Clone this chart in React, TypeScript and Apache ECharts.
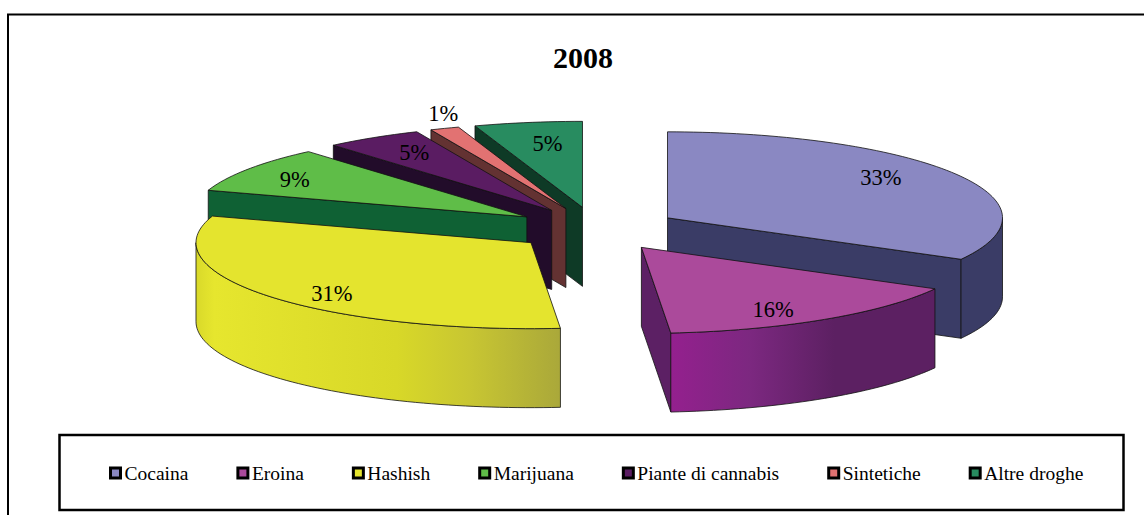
import React, { useEffect, useRef } from "react";
import * as echarts from "echarts";

const chartTitle = "2008";
const categories = ["Cocaina", "Eroina", "Hashish", "Marijuana", "Piante di cannabis", "Sintetiche", "Altre droghe"];
const values = [33, 15.6, 31.4, 8.7, 4.7, 1.4, 5.2];

// Styles and layout, per slice
const topColors = ["#8a88c2", "#ab4a9b", "#e4e42e", "#5fbd48", "#5a1c62", "#e27272", "#288c60"];
const wallColors = ["#3a3c66", "#5c2064", "#8a8a1c", "#0f6134", "#220c2a", "#633232", "#0e3a26"];
const rimStops: Array<Array<[number, string]>> = [
  [[0, "#3a3c66"], [1, "#3a3c66"]],
  [[0, "#94208e"], [0.3, "#7c2880"], [0.62, "#5c2062"], [1, "#5c2062"]],
  [[0, "#d9d92a"], [0.05, "#e6e62e"], [0.55, "#d8d828"], [0.75, "#c8c632"], [1, "#aaa83a"]],
  [[0, "#0f6134"], [1, "#0f6134"]],
  [[0, "#220c2a"], [1, "#220c2a"]],
  [[0, "#633232"], [1, "#633232"]],
  [[0, "#0e3a26"], [1, "#0e3a26"]],
];
const labelReach: Array<[number, number]> = [
  [0.74, 0.91], [0.72, 0.86], [0.76, 0.94], [0.832, 0.79], [0.77, 0.8], [1.01, 1.19], [0.64, 0.75],
];
const paintOrder = [6, 5, 4, 3, 0, 2, 1];

const CX = 596;
const CY = 229;
const RX = 335;
const RY = 86;
const DEPTH = 79;
const EXPLODE_X = 0.248;
const EXPLODE_Y = 0.255;

const total = values.reduce((a, b) => a + b, 0);
const rad = (d: number) => (d * Math.PI) / 180;

function sliceGeometry(i: number) {
  const before = values.slice(0, i).reduce((a, b) => a + b, 0);
  const start = (before / total) * 360;
  const end = ((before + values[i]) / total) * 360;
  const mid = (start + end) / 2;
  const ax = CX + EXPLODE_X * RX * Math.sin(rad(mid));
  const ay = CY - EXPLODE_Y * RY * Math.cos(rad(mid));
  const at = (t: number, down = 0): [number, number] => [
    ax + RX * Math.sin(rad(t)),
    ay - RY * Math.cos(rad(t)) + down,
  ];
  return { start, end, mid, ax, ay, at };
}

function arcAngles(from: number, to: number) {
  const out: number[] = [];
  const n = Math.max(2, Math.ceil((to - from) / 1.5));
  for (let k = 0; k <= n; k++) out.push(from + ((to - from) * k) / n);
  return out;
}

function renderSlice(i: number) {
  const g = sliceGeometry(i);
  const children: any[] = [];
  const line = { stroke: "#111", lineWidth: 0.8 };
  const wall = (t: number) => {
    const p = g.at(t);
    const q = g.at(t, DEPTH);
    children.push({
      type: "polygon",
      silent: true,
      shape: { points: [[g.ax, g.ay], p, q, [g.ax, g.ay + DEPTH]] },
      style: { fill: wallColors[i], ...line },
    });
  };
  if (Math.sin(rad(g.start)) < 0) wall(g.start);
  if (Math.sin(rad(g.end)) > 0) wall(g.end);

  const rimFrom = Math.max(g.start, 90);
  const rimTo = Math.min(g.end, 270);
  if (rimTo > rimFrom) {
    const angles = arcAngles(rimFrom, rimTo);
    const pts = [...angles.map((t) => g.at(t)), ...angles.slice().reverse().map((t) => g.at(t, DEPTH))];
    const leftToRight = rimStops[i].map(([offset, color]) => ({ offset, color }));
    children.push({
      type: "polygon",
      silent: true,
      shape: { points: pts },
      style: {
        fill: { type: "linear", x: 0, y: 0, x2: 1, y2: 0, colorStops: leftToRight },
        ...line,
      },
    });
  }

  const facePts = [[g.ax, g.ay], ...arcAngles(g.start, g.end).map((t) => g.at(t))];
  children.push({
    type: "polygon",
    silent: true,
    shape: { points: facePts },
    style: { fill: topColors[i], ...line },
  });

  const [fx, fy] = labelReach[i];
  children.push({
    type: "text",
    silent: true,
    style: {
      x: g.ax + fx * RX * Math.sin(rad(g.mid)),
      y: g.ay - fy * RY * Math.cos(rad(g.mid)),
      text: `${Math.round((values[i] / total) * 100)}%`,
      fill: "#000",
      font: '22.5px "Liberation Serif"',
      align: "center",
      verticalAlign: "middle",
    },
  });
  return { type: "group", children };
}

export default function App() {
  const ref = useRef<HTMLDivElement>(null);
  useEffect(() => {
    document.body.style.margin = "0";
    const chart = echarts.init(ref.current!, null, { renderer: "svg" });
    chart.setOption({
      animation: false,
      backgroundColor: "#fff",
      title: {
        text: chartTitle,
        left: 578,
        top: 37,
        textAlign: "center",
        textStyle: { fontFamily: "Liberation Serif", fontWeight: "bold", fontSize: 30, color: "#000" },
      },
      legend: {
        data: categories,
        left: 104,
        top: 458,
        icon: "rect",
        itemWidth: 10,
        itemHeight: 10,
        itemGap: 48,
        selectedMode: false,
        itemStyle: { borderColor: "#000", borderWidth: 3 },
        textStyle: { fontFamily: "Liberation Serif", fontSize: 19.5, color: "#000", padding: [0, 0, 0, -1] },
      },
      graphic: [
        { type: "polyline", z: -1, shape: { points: [[8, 520], [8, 14.5], [1150, 14.5]] }, style: { fill: "none", stroke: "#000", lineWidth: 2 } },
        { type: "rect", z: -1, shape: { x: 59.5, y: 435, width: 1064, height: 75 }, style: { fill: "#fff", stroke: "#000", lineWidth: 2.5 } },
      ],
      series: categories.map((name, i) => ({
        type: "custom",
        name,
        coordinateSystem: "none",
        z: 2 + paintOrder.indexOf(i),
        itemStyle: { color: topColors[i] },
        data: [values[i]],
        renderItem: () => renderSlice(i),
      })),
    });
    return () => chart.dispose();
  }, []);
  return <div ref={ref} style={{ width: 1144, height: 515 }} />;
}
